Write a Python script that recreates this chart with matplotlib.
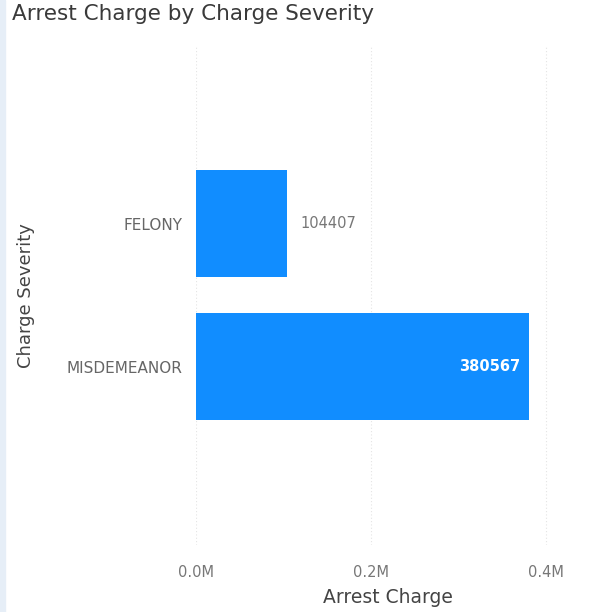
"""Barras horizontales: Arrest Charge por Charge Severity (estilo Power BI)."""

import matplotlib

matplotlib.use("Agg")
import matplotlib.pyplot as plt
from matplotlib.patches import Rectangle
from matplotlib.ticker import FuncFormatter

plt.rcParams["font.family"] = ["DejaVu Sans"]

severidades = ["FELONY", "MISDEMEANOR"]
cargos = [104407, 380567]
ticks_x = [0, 200000, 400000]

AZUL = "#118DFF"

fig = plt.figure(figsize=(6.05, 6.12), dpi=100)
fig.patches.append(Rectangle((0, 0), 0.008, 1, transform=fig.transFigure,
                             color="#e6eef7", zorder=0))

ax = fig.add_axes([0.324, 0.109, 0.635, 0.817])
posiciones = list(range(len(severidades)))
ax.barh(posiciones, cargos, height=0.75, color=AZUL, zorder=2)

ax.set_ylim(2.25, -1.25)
ax.set_xlim(0, 439000)
ax.set_yticks(posiciones)
ax.set_yticklabels(severidades, fontsize=11, color="#666666")
ax.set_xticks(ticks_x)
ax.xaxis.set_major_formatter(FuncFormatter(lambda v, _: f"{v / 1e6:.1f}M"))
ax.tick_params(axis="x", labelsize=10.5, labelcolor="#777777", length=0, pad=14)
ax.tick_params(axis="y", length=0, pad=10)
ax.grid(axis="x", color="#e4e4e4", linestyle=(0, (1, 2)), linewidth=0.8, zorder=0)
for lado in ax.spines.values():
    lado.set_visible(False)

# Etiquetas de datos: fuera de la barra si cabe, adentro en blanco si no.
for pos, valor in zip(posiciones, cargos):
    if valor > 300000:
        ax.text(valor - 10000, pos, str(valor), ha="right", va="center",
                fontsize=10.5, color="white", fontweight="bold", zorder=3)
    else:
        ax.text(valor + 15000, pos, str(valor), ha="left", va="center",
                fontsize=10.5, color="#777777", zorder=3)

ax.set_xlabel("Arrest Charge", fontsize=13.5, color="#444444")
ax.set_ylabel("Charge Severity", fontsize=13, color="#444444")
ax.xaxis.set_label_coords(0.5, -0.085)
ax.yaxis.set_label_coords(-0.42, 0.5)

fig.text(0.02, 0.977, "Arrest Charge by Charge Severity", fontsize=15.5,
         color="#3a3a3a", ha="left", va="center")

fig.savefig("out.png", dpi=100)
plt.close(fig)
